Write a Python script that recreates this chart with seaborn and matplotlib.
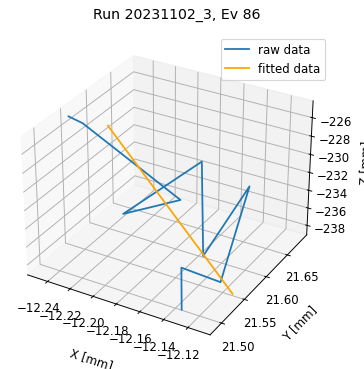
import matplotlib
matplotlib.use("Agg")
import matplotlib.pyplot as plt
import seaborn as sns
import numpy as np

# raw track points
raw_x = [-12.2526, -12.250, -12.1397, -12.175, -12.174, -12.1164, -12.143, -12.1067, -12.1487, -12.130]
raw_y = [21.553, 21.574, 21.509, 21.481, 21.6415, 21.497, 21.670, 21.509, 21.534, 21.488]
raw_z = [-225.0, -226.5, -227.9, -229.4, -230.9, -232.3, -233.8, -235.3, -236.7, -238.2]

# fitted line endpoints
fit_x = [-12.2197, -12.108]
fit_y = [21.556, 21.5396]
fit_z = [-225.0, -238.2]

title = "Run 20231102_3, Ev 86"

pal = sns.color_palette("tab10")
DPI = 85
fig = plt.figure(figsize=(364 / DPI, 370 / DPI), dpi=DPI)
ax = fig.add_subplot(projection="3d")
fig.subplots_adjust(left=0.03, right=0.88, bottom=0.0465, top=0.9085)
ax.set_box_aspect(None, zoom=1.05)

ax.plot(raw_x, raw_y, raw_z, color=pal[0], label="raw data")
ax.plot(fit_x, fit_y, fit_z, color="orange", label="fitted data")

ax.set_xlim(-12.258, -12.102)
ax.set_ylim(21.476, 21.698)
ax.set_zlim(-239.1, -224.2)
ax.set_xlabel("X [mm]", labelpad=10)
ax.set_ylabel("Y [mm]", labelpad=8)
ax.set_zlabel("Z [mm]", labelpad=7)
ax.set_title(title, pad=17, x=0.536)
ax.legend(loc="upper right", bbox_to_anchor=(1.0356, 1.016))

fig.savefig("out.png", dpi=DPI)
